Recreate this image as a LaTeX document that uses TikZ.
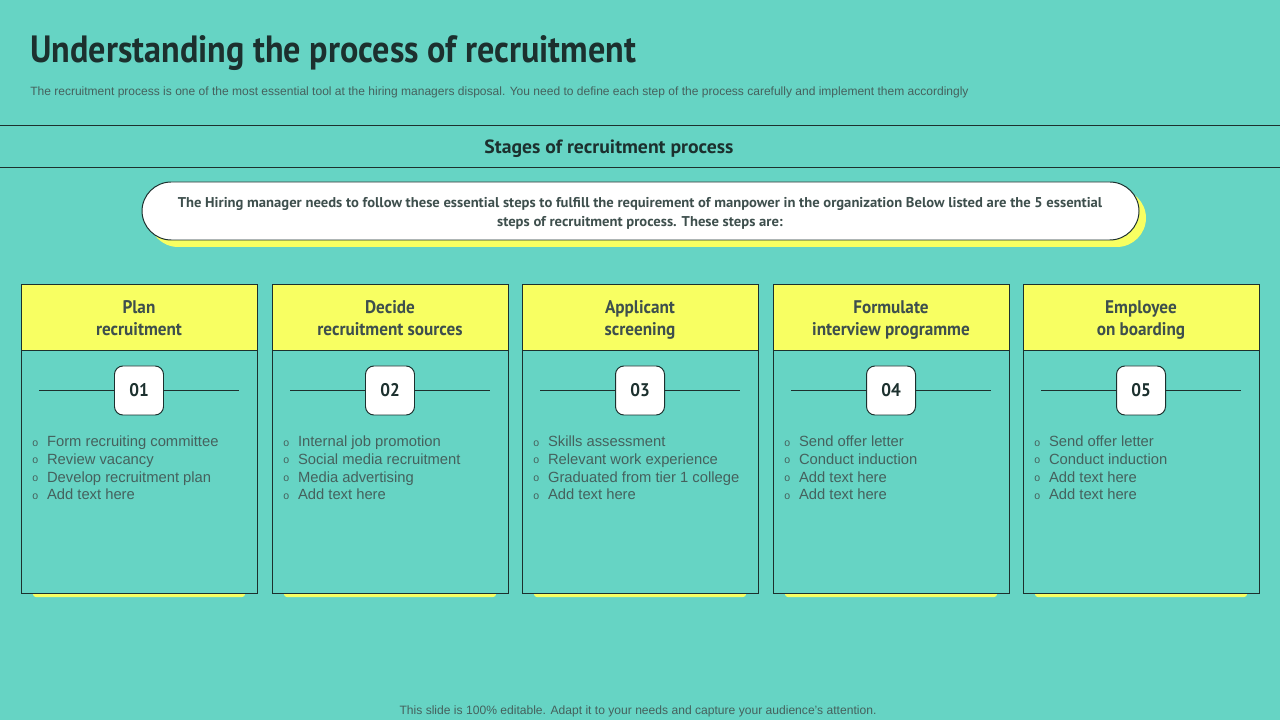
\documentclass[tikz,border=0pt]{standalone}
\usepackage{fontspec}
\setmainfont{Liberation Sans}
\newfontfamily\titlefont[FakeStretch=0.9]{PT Sans}
\newfontfamily\headfont[FakeStretch=0.94]{PT Sans}
\newfontfamily\widefont[FakeStretch=1.03]{PT Sans}
\usetikzlibrary{positioning,calc}
\definecolor{slidebg}{HTML}{66D4C4}
\definecolor{hiyellow}{HTML}{F8FF62}
\definecolor{inkdark}{HTML}{1C302E}
\definecolor{bodygray}{HTML}{45615D}
\tikzset{
  rule/.style={draw=inkdark, line width=0.7pt},
  headbox/.style={rectangle, draw=inkdark, fill=hiyellow, line width=0.7pt,
                  minimum width=236*0.025cm, minimum height=66*0.025cm,
                  align=center, text=inkdark!85,
                  font=\headfont\bfseries\fontsize{13}{15.5}\selectfont},
  bodybox/.style={rectangle, draw=inkdark, fill=slidebg, line width=0.7pt,
                  minimum width=236*0.025cm, minimum height=243*0.025cm},
  numbox/.style={rectangle, draw=inkdark, fill=white, rounded corners=6pt,
                 line width=0.7pt, minimum size=49*0.025cm, text=inkdark,
                 font=\headfont\bfseries\fontsize{13}{15}\selectfont},
  pointlist/.style={align=left, text=bodygray, inner sep=0pt,
                    font=\fontsize{10.5}{12.55}\selectfont},
  strip/.style={fill=hiyellow, rounded corners=2pt}
}
\newcommand{\stagept}[1]{\makebox[10.5pt][l]{\raisebox{0.5pt}{\fontsize{7.5}{8}\selectfont o}}#1}

\begin{document}
\begin{tikzpicture}[x=0.025cm, y=-0.025cm]
  \fill[slidebg] (0,0) rectangle (1280,720);
  \useasboundingbox (0,0) rectangle (1280,720);

  % title block
  \node[anchor=base west, inner sep=0pt, text=inkdark,
        font=\titlefont\bfseries\fontsize{27}{30}\selectfont] (title) at (30,63)
        {Understanding the process of recruitment};
  \node[anchor=base west, inner sep=0pt, text=bodygray,
        font=\fontsize{8.55}{10}\selectfont] (sub) at (30,96)
        {The recruitment process is one of the most essential tool at the hiring managers disposal. You need to define each step of the process carefully and implement them accordingly};

  \draw[rule] (0,125) -- (1280,125);
  \draw[rule] (0,167) -- (1280,167);
  \node[text=inkdark, font=\widefont\bfseries\fontsize{13.6}{15}\selectfont] (stages) at (609,149)
        {Stages of recruitment process};

  % intro pill
  \fill[hiyellow, rounded corners=0.73cm] (149,189) rectangle (1146,247);
  \draw[inkdark, fill=white, line width=0.7pt, rounded corners=0.73cm] (142,182) rectangle (1139,240);
  \node[align=center, text=inkdark!85, font=\widefont\bfseries\fontsize{10.1}{13.5}\selectfont] (intro) at (640,213)
        {The Hiring manager needs to follow these essential steps to fulfill the requirement of manpower in the organization Below listed are the 5 essential\\
         steps of recruitment process. These steps are:};

  % stage columns
  \foreach \i/\x/\head/\items in {
    1/139/{Plan\\recruitment}/{\stagept{Form recruiting committee}\\\stagept{Review vacancy}\\\stagept{Develop recruitment plan}\\\stagept{Add text here}},
    2/390/{Decide\\recruitment sources}/{\stagept{Internal job promotion}\\\stagept{Social media recruitment}\\\stagept{Media advertising}\\\stagept{Add text here}},
    3/640/{Applicant\\screening}/{\stagept{Skills assessment}\\\stagept{Relevant work experience}\\\stagept{Graduated from tier 1 college}\\\stagept{Add text here}},
    4/891/{Formulate\\interview programme}/{\stagept{Send offer letter}\\\stagept{Conduct induction}\\\stagept{Add text here}\\\stagept{Add text here}},
    5/1141/{Employee\\on boarding}/{\stagept{Send offer letter}\\\stagept{Conduct induction}\\\stagept{Add text here}\\\stagept{Add text here}}} {
    \fill[strip] (\x-106,590) rectangle (\x+106,597);
    \node[bodybox] (body\i) at (\x,471.5) {};
    \node[headbox] (head\i) at (\x,317) {\rule{0pt}{15.5pt}\head\strut};
    \coordinate (lineL\i) at (\x-100,390.5);
    \coordinate (lineR\i) at (\x+100,390.5);
    \draw[rule] (lineL\i) -- (lineR\i);
    \node[numbox] (num\i) at (\x,390.5) {0\i};
    \node[pointlist, anchor=north west] (list\i) at (\x-107,436) {\items};
  }

  \node[text=bodygray, font=\fontsize{8.6}{10}\selectfont] (footer) at (638,711)
        {This slide is 100\% editable. Adapt it to your needs and capture your audience's attention.};
\end{tikzpicture}
\end{document}
